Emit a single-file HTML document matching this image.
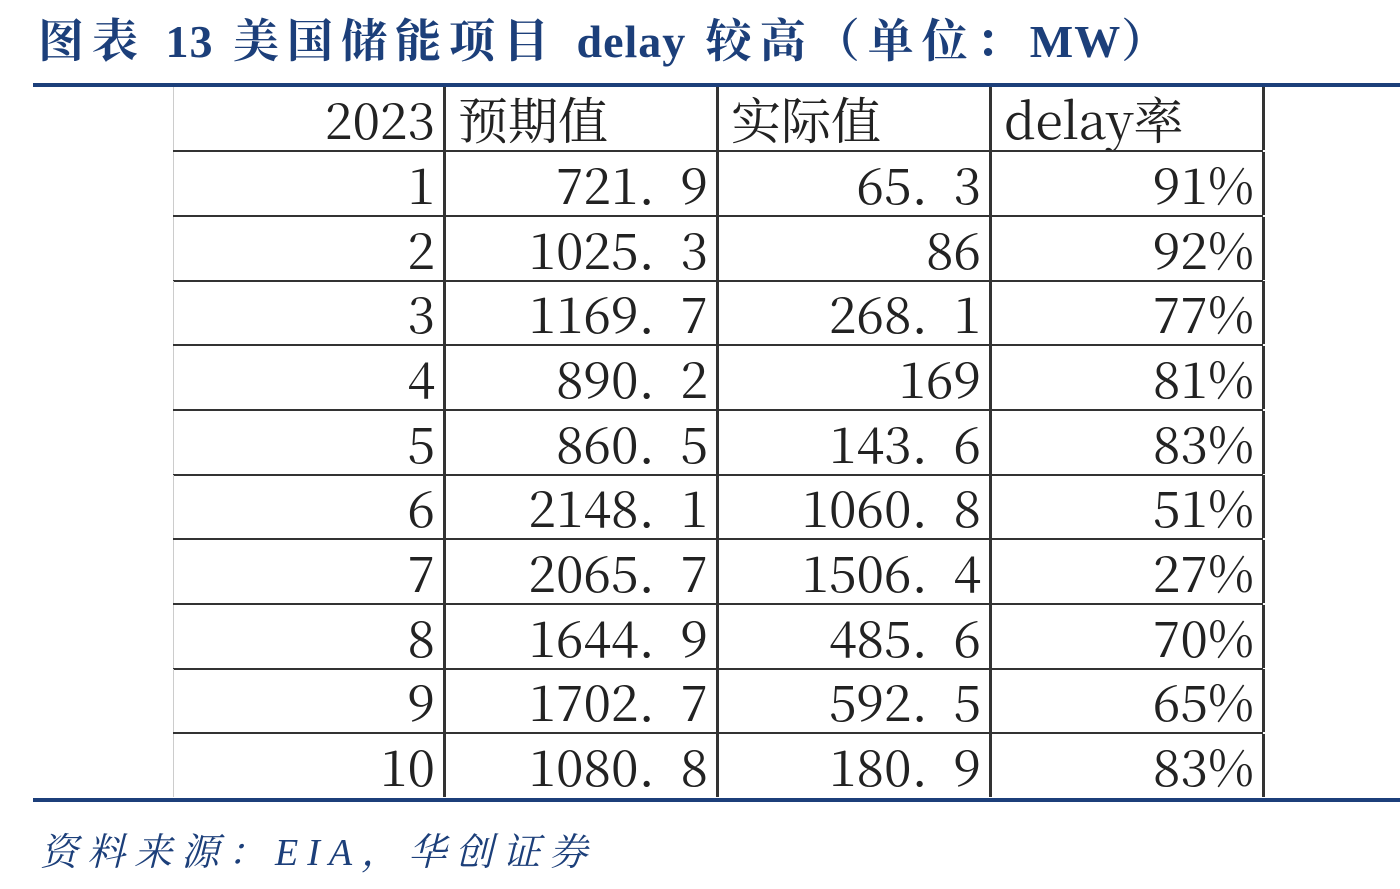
<!DOCTYPE html>
<html><head><meta charset="utf-8"><style>
body{margin:0;width:1400px;height:889px;background:#fff;position:relative;overflow:hidden}
.title{position:absolute;left:38px;top:12px;font:bold 46px "Liberation Serif","Noto Serif CJK SC",serif;color:#1c3f7a;white-space:nowrap;letter-spacing:8px;line-height:60px}
.title span{letter-spacing:1px}
.bl{position:absolute;left:33px;right:0;height:4px;background:#1c3f7a}
.t{position:absolute;left:173px;top:87px;width:1090px;font:50px "Noto Serif CJK SC",serif;color:#222}
.r{position:absolute;left:0;width:1090px;height:63px;border-bottom:2px solid #333}
.c{position:absolute;top:0;height:63px;line-height:63px;text-align:right;white-space:pre;overflow:hidden;border-right:3px solid #333;box-sizing:border-box;padding-right:8px}
.c0{left:0;width:273px;border-left:1px solid #ccc}
.c1{left:273px;width:273px}
.c2{left:546px;width:273px}
.c3{left:819px;width:273px}
.l{text-align:left;padding-left:12px}
.src{position:absolute;left:40px;top:826px;font:italic 38px "Liberation Serif","Noto Serif CJK SC",serif;color:#1c3f7a;letter-spacing:9px;line-height:54px}
</style></head><body>
<div class="title">图表 <span>13</span> 美国储能项目 <span>delay</span> 较高（单位：<span>MW</span>）</div>
<div class="bl" style="top:83px"></div>
<div class="t">
<div class="r" style="top:0"><div class="c c0">2023</div><div class="c c1 l">预期值</div><div class="c c2 l">实际值</div><div class="c c3 l">delay率</div></div>
<div class="r" style="top:65px"><div class="c c0">1</div><div class="c c1">721.  9</div><div class="c c2">65.  3</div><div class="c c3">91%</div></div>
<div class="r" style="top:130px"><div class="c c0">2</div><div class="c c1">1025.  3</div><div class="c c2">86</div><div class="c c3">92%</div></div>
<div class="r" style="top:194px"><div class="c c0">3</div><div class="c c1">1169.  7</div><div class="c c2">268.  1</div><div class="c c3">77%</div></div>
<div class="r" style="top:259px"><div class="c c0">4</div><div class="c c1">890.  2</div><div class="c c2">169</div><div class="c c3">81%</div></div>
<div class="r" style="top:324px"><div class="c c0">5</div><div class="c c1">860.  5</div><div class="c c2">143.  6</div><div class="c c3">83%</div></div>
<div class="r" style="top:388px"><div class="c c0">6</div><div class="c c1">2148.  1</div><div class="c c2">1060.  8</div><div class="c c3">51%</div></div>
<div class="r" style="top:453px"><div class="c c0">7</div><div class="c c1">2065.  7</div><div class="c c2">1506.  4</div><div class="c c3">27%</div></div>
<div class="r" style="top:518px"><div class="c c0">8</div><div class="c c1">1644.  9</div><div class="c c2">485.  6</div><div class="c c3">70%</div></div>
<div class="r" style="top:582px"><div class="c c0">9</div><div class="c c1">1702.  7</div><div class="c c2">592.  5</div><div class="c c3">65%</div></div>
<div class="r" style="top:647px;border-bottom:none"><div class="c c0">10</div><div class="c c1">1080.  8</div><div class="c c2">180.  9</div><div class="c c3">83%</div></div>
</div>
<div class="bl" style="top:798px"></div>
<div class="src">资料来源：EIA，华创证券</div>
</body></html>
